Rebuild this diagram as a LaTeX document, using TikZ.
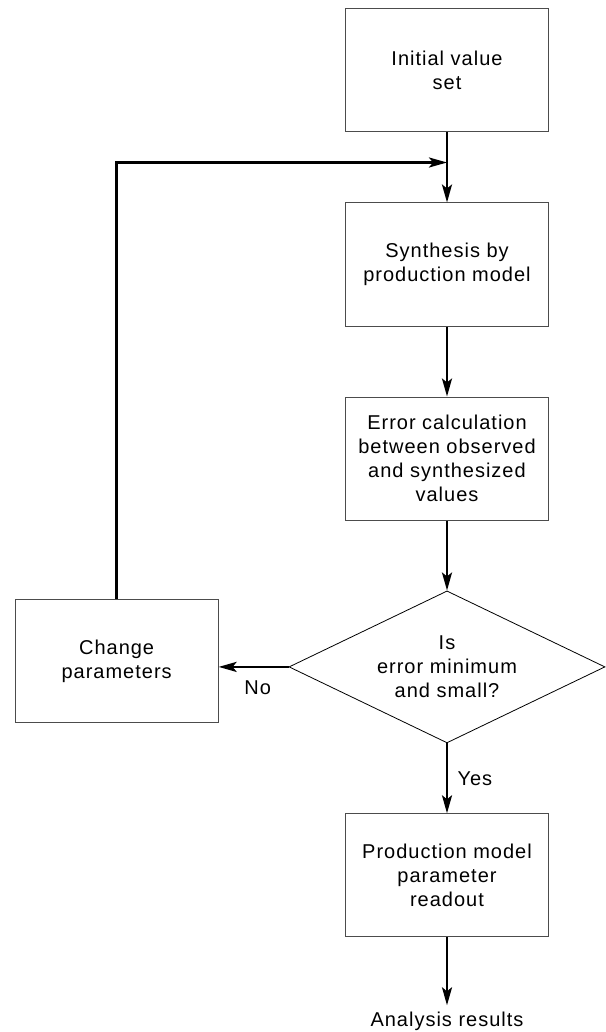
\documentclass[tikz,border=0pt]{standalone}
\usepackage{fontspec}
\setmainfont{Liberation Sans}[LetterSpace=5]
\usetikzlibrary{positioning,shapes.geometric,arrows.meta,calc}

\begin{document}
\begin{tikzpicture}[
  x=1pt, y=1pt,
  node distance=70pt,
  font=\fontsize{20}{24}\selectfont,
  stepbox/.style = {shape=rectangle, draw=black!70, line width=1pt,
                    minimum width=203pt, minimum height=123pt, align=center},
  decide/.style = {shape=diamond, draw, line width=0.8pt, aspect=2.08,
                   minimum width=316pt, minimum height=152pt, inner sep=0pt, align=center},
  flow/.style = {line width=2.5pt, -{Stealth[length=18pt,width=10pt,inset=4pt]}}
]
  \useasboundingbox (0,0) rectangle (605,-1032);

  \node[stepbox] (init) at (447,-70.5) {Initial value\\set};
  \node[stepbox, below=of init] (synth) {Synthesis by\\production model};
  \node[stepbox, below=of synth] (error) {Error calculation\\between observed\\and synthesized\\values};
  \node[decide, below=of error] (check) {Is\\error minimum\\and small?};
  \node[stepbox, left=of check, yshift=6pt] (change) {Change\\parameters};
  \node[stepbox, below=of check] (readout) {Production model\\parameter\\readout};
  \node[below=68pt of readout, inner xsep=0pt, inner ysep=6pt] (result) {Analysis results};

  \coordinate (merge) at ([yshift=-30pt]init.south);

  \draw[flow] (init) -- (synth);
  \draw[flow] (synth) -- (error);
  \draw[flow] (error) -- (check);
  \draw[flow] (check.west) -- node[below=9pt, xshift=4pt] {No} (check.west -| change.east);
  \draw[flow] (change.north) |- (merge);
  \draw[flow] (check.south) -- node[right=6pt] {Yes} (readout);
  \draw[flow] (readout) -- (result);
\end{tikzpicture}
\end{document}
